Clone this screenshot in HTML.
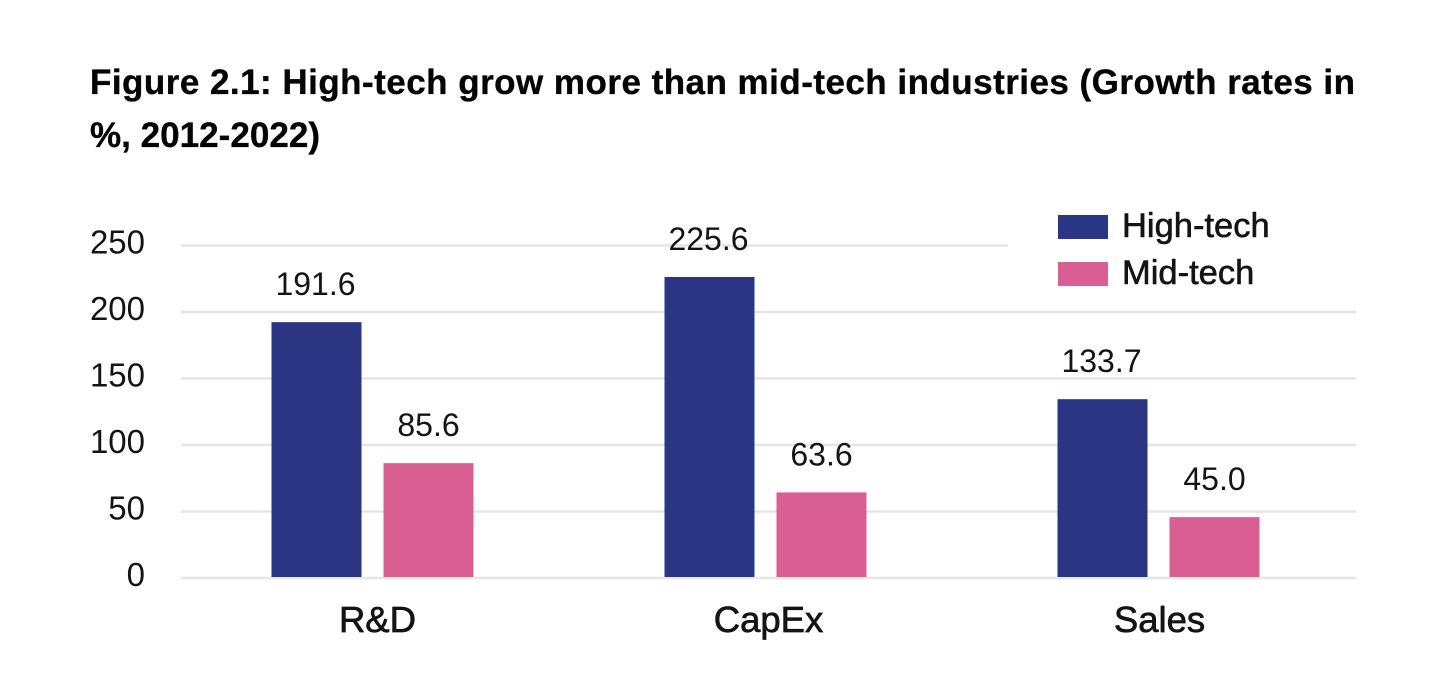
<!DOCTYPE html>
<html lang="en">
<head>
<meta charset="utf-8">
<title>Figure 2.1</title>
<style>
html,body{margin:0;padding:0;background:#fff;width:1448px;height:680px;overflow:hidden}
svg{display:block;position:absolute;left:0;top:0}
text{font-family:"Liberation Sans",sans-serif;fill:#141414}
.title{font-weight:700;font-size:35px;fill:#050505;stroke:#050505;stroke-width:.35px}
</style>
</head>
<body>
<svg id="chart" width="1448" height="680" viewBox="0 0 1448 680">
  <text class="title" x="90" y="94" textLength="1265" lengthAdjust="spacing">Figure 2.1: High-tech grow more than mid-tech industries (Growth rates in</text>
  <text class="title" x="90" y="147" textLength="230" lengthAdjust="spacingAndGlyphs">%, 2012-2022)</text>
</svg>
<script>
const categories = ['R&D', 'CapEx', 'Sales'];
const highTech = [191.6, 225.6, 133.7];
const midTech = [85.6, 63.6, 45.0];
const yTicks = [0, 50, 100, 150, 200, 250];
const seriesNames = ['High-tech', 'Mid-tech'];

const svg = document.getElementById('chart');
const NS = 'http://www.w3.org/2000/svg';
const HIGH = '#2a3684';
const MID = '#d95f92';
const GRID = '#e6e6e6';

function yScale(v) { return 577 - 1.33 * v; }
function xCenter(i) { return 372.5 + 393 * i; }
function xLabelCenter(i) { return 377.5 + 391 * i; }

function make(tag, attrs, txt) {
  const el = document.createElementNS(NS, tag);
  for (const k in attrs) el.setAttribute(k, attrs[k]);
  if (txt !== undefined) el.textContent = txt;
  svg.appendChild(el);
  return el;
}

yTicks.forEach(function (t) {
  const gy = yScale(t) + 1;
  const line = make('line', { x1: 181, x2: t === 250 ? 1008 : 1356, y1: gy, y2: gy, stroke: GRID, 'stroke-width': 2.5 });
  
  
  const label = make('text', { x: 145, y: gy + 8, 'text-anchor': 'end', 'font-size': 33 }, String(t));
  
  
});

const barW = 90;
const barGap = 22;

categories.forEach(function (c, i) {
  const cx = xCenter(i);
  const slug = c.toLowerCase().replace(/[^a-z]/g, '');

  const b1 = make('rect', { x: cx - barGap / 2 - barW, y: yScale(highTech[i]), width: barW, height: yScale(0) - yScale(highTech[i]), fill: HIGH });
  
  

  const b2 = make('rect', { x: cx + barGap / 2, y: yScale(midTech[i]), width: barW, height: yScale(0) - yScale(midTech[i]), fill: MID });
  
  

  const v1 = make('text', { x: cx - barGap / 2 - barW / 2 - 1, y: yScale(highTech[i]) - 27, 'text-anchor': 'middle', 'font-size': 32 }, highTech[i].toFixed(1));
  
  

  const v2 = make('text', { x: cx + barGap / 2 + barW / 2, y: yScale(midTech[i]) - 27, 'text-anchor': 'middle', 'font-size': 32 }, midTech[i].toFixed(1));
  
  

  const xl = make('text', { x: xLabelCenter(i), y: 632, 'text-anchor': 'middle', 'font-size': 36.5, 'stroke': '#141414', 'stroke-width': 0.7 }, c);
  
  
});

seriesNames.forEach(function (name, i) {
  const top = 215 + 47 * i;
  const sw = make('rect', { x: 1058, y: top, width: 50, height: 24, fill: i === 0 ? HIGH : MID });
  
  
  const lt = make('text', { x: 1122, y: top + 22, 'font-size': 34.5, 'stroke': '#141414', 'stroke-width': 0.6 }, name);
  
  
});
</script>
</body>
</html>
